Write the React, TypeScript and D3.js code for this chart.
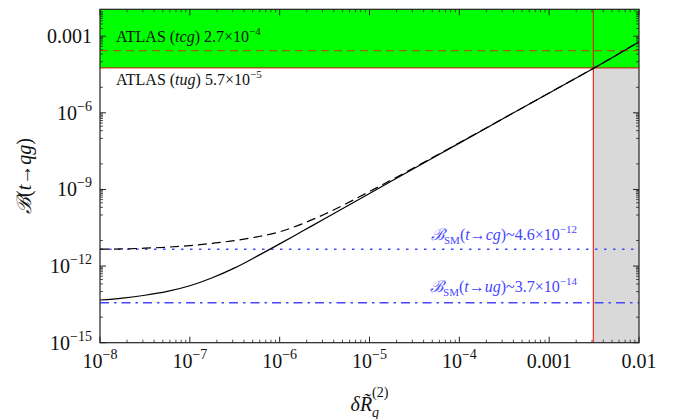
import React from 'react'
import { scaleLog, line, curveMonotoneX } from 'd3'

// Data
const xGrid = [1e-8, 1.78e-8, 3.16e-8, 5.62e-8, 1e-7, 1.78e-7, 3.16e-7, 5.62e-7, 1e-6, 1.78e-6, 3.16e-6, 1e-5, 3.16e-5, 1e-4, 3.16e-4, 1e-3, 3.16e-3, 1e-2]
const solidValues = [4.7e-14, 5.6e-14, 7.2e-14, 1.02e-13, 1.7e-13, 3.5e-13, 8.5e-13, 2.45e-12, 7.4e-12, 2.3e-11, 7.1e-11, 6.9e-10, 6.8e-9, 6.5e-8, 6.3e-7, 6.0e-6, 5.7e-5, 6.0e-4]
const dashedValues = [4.6e-12, 4.7e-12, 5.0e-12, 5.5e-12, 6.3e-12, 7.8e-12, 1.0e-11, 1.4e-11, 2.2e-11, 4.5e-11, 1.07e-10, 8.3e-10, 7.2e-9, 6.7e-8, 6.3e-7, 6.0e-6, 5.7e-5, 6.0e-4]

const atlasTcg = 2.7e-4
const atlasTug = 5.7e-5
const smTcg = 4.6e-12
const smTug = 3.7e-14
const boundX = 3.1e-3

const xTickValues = [1e-8, 1e-7, 1e-6, 1e-5, 1e-4, 1e-3, 1e-2]
const xTickLabels = ['10^−8', '10^−7', '10^−6', '10^−5', '10^−4', '0.001', '0.01']
const yTickValues = [1e-15, 1e-12, 1e-9, 1e-6, 1e-3]
const yTickLabels = ['10^−15', '10^−12', '10^−9', '10^−6', '0.001']

// Layout
const W = 673
const H = 419
const left = 100
const right = 639
const top = 9.3
const bottom = 342.7
const font = 'Liberation Serif, DejaVu Serif, serif'
const blue = '#4646ff'

const xScale = scaleLog().domain([1e-8, 1e-2]).range([left, right])
const yScale = scaleLog().domain([1e-15, Math.pow(10, -1.947)]).range([bottom, top])

const curve = line<number>()
    .x((d, i) => xScale(xGrid[i]))
    .y((d) => yScale(d))
    .curve(curveMonotoneX)

// minor ticks
const xMinor: number[] = []
for (let k = -8; k < -2; k++) {
    for (let j = 2; j <= 9; j++) xMinor.push(j * Math.pow(10, k))
}
const yMinor: number[] = []
for (let k = -15; k <= -3; k += 3) {
    for (let j = 1; j <= 9; j++) {
        const v = j * Math.pow(10, k - 1)
        if (v >= 1e-15) yMinor.push(v)
    }
    if (k - 2 >= -15) yMinor.push(Math.pow(10, k - 2))
}
for (let j = 2; j <= 9; j++) yMinor.push(j * 1e-3)
const yMax = yScale.domain()[1]

const PowLabel = ({ label, x, y, anchor }: { label: string, x: number, y: number, anchor: string }) => {
    const parts = label.split('^')
    return (
        <text x={x} y={y} textAnchor={anchor} fontSize={20} fill="#111">
            <tspan>{parts[0]}</tspan>
            {parts[1] && <tspan dy={-9} fontSize={14}>{parts[1]}</tspan>}
        </text>
    )
}

const App = () => {
    const yTcg = yScale(atlasTcg)
    const yTug = yScale(atlasTug)
    const xb = xScale(boundX)
    return (
        <svg width={W} height={H} style={{ position: 'absolute', left: 0, top: 0, background: '#fff', fontFamily: font }}>
            {/* excluded regions */}
            <rect x={left} y={top} width={right - left} height={yTug - top} fill="#00ff00" />
            <rect x={xb} y={yTug} width={right - xb} height={bottom - yTug} fill="#d9d9d9" />
            <line x1={left} x2={right} y1={yTug} y2={yTug} stroke="rgba(220,0,0,0.75)" strokeWidth={1.2} />
            <line x1={left} x2={right} y1={yTcg} y2={yTcg} stroke="rgba(255,0,0,0.6)" strokeWidth={1.3} strokeDasharray="8,5" />
            <line x1={xb} x2={xb} y1={top} y2={bottom} stroke="#ff0000" strokeWidth={1} />

            {/* SM lines */}
            <line x1={left} x2={right} y1={yScale(smTcg)} y2={yScale(smTcg)} stroke={blue} strokeWidth={1.5} strokeDasharray="2.5,6.5" />
            <line x1={left} x2={right} y1={yScale(smTug)} y2={yScale(smTug)} stroke={blue} strokeWidth={1.5} strokeDasharray="9,5,2.5,5" />

            {/* curves */}
            <path d={curve(dashedValues) || ''} fill="none" stroke="#000" strokeWidth={1.2} strokeDasharray="9,5" />
            <path d={curve(solidValues) || ''} fill="none" stroke="#000" strokeWidth={1.2} />

            {/* frame */}
            <rect x={left} y={top} width={right - left} height={bottom - top} fill="none" stroke="#222" strokeWidth={1.2} />

            {/* ticks */}
            {xTickValues.map((v) => (
                <g key={'xt' + v}>
                    <line x1={xScale(v)} x2={xScale(v)} y1={bottom} y2={bottom - 6} stroke="#222" />
                    <line x1={xScale(v)} x2={xScale(v)} y1={top} y2={top + 6} stroke="#222" />
                </g>
            ))}
            {xMinor.map((v) => (
                <g key={'xm' + v}>
                    <line x1={xScale(v)} x2={xScale(v)} y1={bottom} y2={bottom - 3} stroke="#222" strokeWidth={0.8} />
                    <line x1={xScale(v)} x2={xScale(v)} y1={top} y2={top + 3} stroke="#222" strokeWidth={0.8} />
                </g>
            ))}
            {yTickValues.map((v) => (
                <g key={'yt' + v}>
                    <line x1={left} x2={left + 6} y1={yScale(v)} y2={yScale(v)} stroke="#222" />
                    <line x1={right} x2={right - 6} y1={yScale(v)} y2={yScale(v)} stroke="#222" />
                </g>
            ))}
            {yMinor.filter((v) => v < yMax).map((v, i) => (
                <g key={'ym' + i}>
                    <line x1={left} x2={left + 3} y1={yScale(v)} y2={yScale(v)} stroke="#222" strokeWidth={0.8} />
                    <line x1={right} x2={right - 3} y1={yScale(v)} y2={yScale(v)} stroke="#222" strokeWidth={0.8} />
                </g>
            ))}

            {/* tick labels */}
            {xTickValues.map((v, i) => (
                <PowLabel key={'xl' + v} label={xTickLabels[i]} x={xScale(v)} y={368} anchor="middle" />
            ))}
            {yTickValues.map((v, i) => (
                <PowLabel key={'yl' + v} label={yTickLabels[i]} x={92} y={yScale(v) + 7} anchor="end" />
            ))}

            {/* annotations */}
            <text x={116} y={42} fontSize={16} fill="#111">
                ATLAS (<tspan fontStyle="italic">tcg</tspan>) 2.7×10<tspan dy={-7} fontSize={11}>−4</tspan>
            </text>
            <text x={116} y={85} fontSize={16} fill="#111">
                ATLAS (<tspan fontStyle="italic">tug</tspan>) 5.7×10<tspan dy={-7} fontSize={11}>−5</tspan>
            </text>
            <text x={577} y={240} textAnchor="end" fontSize={16} fill={blue}>
                <tspan fontStyle="italic">ℬ</tspan>
                <tspan dy={4} fontSize={11}>SM</tspan>
                <tspan dy={-4}>(</tspan>
                <tspan fontStyle="italic">t</tspan>→<tspan fontStyle="italic">cg</tspan>)~4.6×10
                <tspan dy={-7} fontSize={11}>−12</tspan>
            </text>
            <text x={577} y={292} textAnchor="end" fontSize={16} fill={blue}>
                <tspan fontStyle="italic">ℬ</tspan>
                <tspan dy={4} fontSize={11}>SM</tspan>
                <tspan dy={-4}>(</tspan>
                <tspan fontStyle="italic">t</tspan>→<tspan fontStyle="italic">ug</tspan>)~3.7×10
                <tspan dy={-7} fontSize={11}>−14</tspan>
            </text>

            {/* axis titles */}
            <text transform={`translate(31, ${(top + bottom) / 2}) rotate(-90)`} textAnchor="middle" fontSize={20} fill="#111">
                <tspan fontStyle="italic">ℬ</tspan>(<tspan fontStyle="italic">t</tspan>→<tspan fontStyle="italic">qg</tspan>)
            </text>
            <text x={(left + right) / 2} y={411} textAnchor="middle" fontSize={20} fill="#111">
                <tspan fontStyle="italic">δR̃</tspan>
                <tspan dy={6} fontSize={14} fontStyle="italic">q</tspan>
                <tspan dx={-7} dy={-20} fontSize={14}>(2)</tspan>
            </text>
        </svg>
    )
}

export default App
